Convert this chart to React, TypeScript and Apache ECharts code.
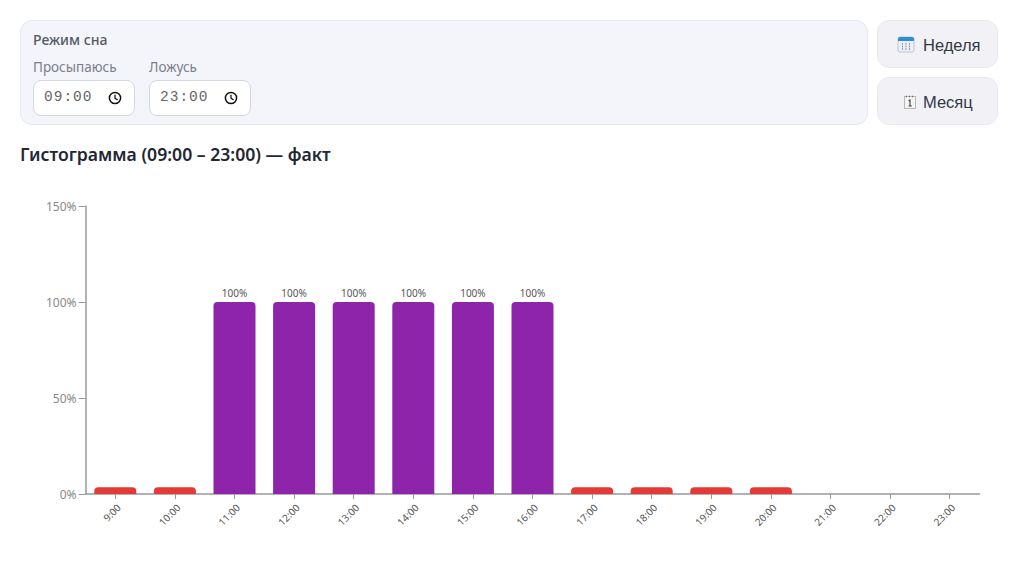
import React, { useEffect, useRef } from "react";
import * as echarts from "echarts";

const categories = ["9:00","10:00","11:00","12:00","13:00","14:00","15:00","16:00","17:00","18:00","19:00","20:00","21:00","22:00","23:00"];
const values = [3.5,3.5,100,100,100,100,100,100,3.5,3.5,3.5,3.5,0,0,0];
const yTicks = [0,50,100,150];
const titleText = "Гистограмма (09:00 – 23:00) — факт";
const panelTitle = "Режим сна";
const PURPLE = "#8E24AA";
const RED = "#E53935";
const FONT = "'Noto Sans', sans-serif";
const UI = "'Noto Sans', sans-serif";

const abs = (x: number, y: number, w: number, h: number): React.CSSProperties => ({ position: "absolute", left: x, top: y, width: w, height: h, boxSizing: "border-box" });

function Clock({ x, y }: { x: number; y: number }) {
  return (
    <svg style={{ position: "absolute", left: x, top: y }} width="14" height="14" viewBox="0 0 14 14">
      <circle cx="7" cy="7" r="5.6" fill="none" stroke="#111" strokeWidth="1.5" />
      <path d="M7 3.8V7.2L9.6 8.9" fill="none" stroke="#111" strokeWidth="1.3" />
    </svg>
  );
}

function TimeBox({ x, label, value }: { x: number; label: string; value: string }) {
  return (
    <>
      <div style={{ position: "absolute", left: x, top: 58, fontSize: 13.5, lineHeight: "18px", color: "#7a7e8a", fontFamily: UI }}>{label}</div>
      <div style={{ ...abs(x, 80, 102, 36), background: "#fff", border: "1px solid #d5d8e2", borderRadius: 8 }} />
      <div style={{ position: "absolute", left: x + 11, top: 88, fontSize: 14.5, lineHeight: "18px", letterSpacing: 1, color: "#666", fontFamily: "'Liberation Mono', monospace" }}>{value}</div>
      <Clock x={x + 75} y={91} />
    </>
  );
}

function Btn({ y, h, label, icon }: { y: number; h: number; label: string; icon: React.ReactNode }) {
  return (
    <div style={{ ...abs(877, y, 121, h), background: "#f1f1f6", border: "1px solid #e9e9f0", borderRadius: 12 }}>
      {icon}
      <div style={{ position: "absolute", left: 45, top: 0, lineHeight: `${h}px`, fontSize: 16.5, color: "#333846", fontFamily: "'Liberation Sans', sans-serif" }}>{label}</div>
    </div>
  );
}

const WeekIcon = (
  <svg style={{ position: "absolute", left: 19, top: 15 }} width="18" height="17" viewBox="0 0 18 17">
    <rect x="1" y="1" width="16" height="15" rx="2" fill="#eceef4" stroke="#b9bdc8" strokeWidth="0.8" />
    <path d="M1 5V3a2 2 0 0 1 2-2h12a2 2 0 0 1 2 2v2z" fill="#2b8fd6" />
    <path d="M5 8h1M8.5 8h1M12 8h1M5 10.5h1M8.5 10.5h1M12 10.5h1M5 13h1M8.5 13h1M12 13h1" stroke="#7d83a8" strokeWidth="1.5" />
  </svg>
);
const MonthIcon = (
  <svg style={{ position: "absolute", left: 26, top: 17 }} width="12" height="14" viewBox="0 0 12 14">
    <rect x="0.5" y="1.5" width="11" height="12" fill="#f4f4f2" stroke="#a8a8a8" strokeWidth="0.8" />
    <path d="M2 1.5h1M5 1.5h1M8 1.5h1" stroke="#666" strokeWidth="1.4" />
    <path d="M4.5 6l1.5-1v6M4.5 11h3.4" fill="none" stroke="#444" strokeWidth="1.1" />
  </svg>
);

export default function App() {
  const ref = useRef<HTMLDivElement>(null);
  useEffect(() => {
    const chart = echarts.init(ref.current!, undefined, { renderer: "svg" });
    chart.setOption({
      animation: false,
      title: {
        text: titleText,
        left: 20,
        top: 145,
        padding: 0,
        textStyle: { fontFamily: UI, fontSize: 17.6, fontWeight: 600, color: "#222733" },
      },
      grid: { left: 85.5, right: 44.5, top: 206, bottom: 75 },
      xAxis: {
        type: "category",
        data: categories,
        axisLine: { lineStyle: { color: "#999", width: 1.5 } },
        axisTick: { show: true, alignWithLabel: true, length: 5, lineStyle: { color: "#999" } },
        axisLabel: { rotate: 45, interval: 0, fontSize: 10, color: "#555", margin: 8, verticalAlign: "top", fontFamily: FONT },
      },
      yAxis: {
        type: "value",
        min: 0,
        max: yTicks[yTicks.length - 1],
        interval: 50,
        axisLine: { show: true, lineStyle: { color: "#999", width: 1.5 } },
        axisTick: { show: true, length: 7, lineStyle: { color: "#999" } },
        splitLine: { show: false },
        axisLabel: { formatter: "{value}%", fontSize: 12, color: "#888", margin: 9, fontFamily: FONT },
      },
      series: [
        {
          type: "bar",
          barWidth: 42,
          data: values.map((v) => ({
            value: v,
            itemStyle: { color: v >= 50 ? PURPLE : RED, borderRadius: [4, 4, 0, 0] },
            label: { show: v >= 50 },
          })),
          label: { position: "top", distance: 4, formatter: "{c}%", fontSize: 10, color: "#555", fontFamily: FONT },
        },
      ],
    });
    return () => chart.dispose();
  }, []);
  return (
    <div style={{ position: "fixed", left: 0, top: 0, width: 1024, height: 569, background: "#fff", overflow: "hidden" }}>
      <div ref={ref} style={abs(0, 0, 1024, 569)} />
      <div style={{ ...abs(20, 20, 848, 105), background: "#f4f5fa", border: "1px solid #e6e8f0", borderRadius: 12 }} />
      <div style={{ position: "absolute", left: 33, top: 31, fontSize: 14, lineHeight: "18px", fontWeight: 500, color: "#555a66", fontFamily: UI }}>{panelTitle}</div>
      <TimeBox x={33} label="Просыпаюсь" value="09:00" />
      <TimeBox x={149} label="Ложусь" value="23:00" />
      <Btn y={20} h={48} label="Неделя" icon={WeekIcon} />
      <Btn y={77} h={48} label="Месяц" icon={MonthIcon} />
    </div>
  );
}
